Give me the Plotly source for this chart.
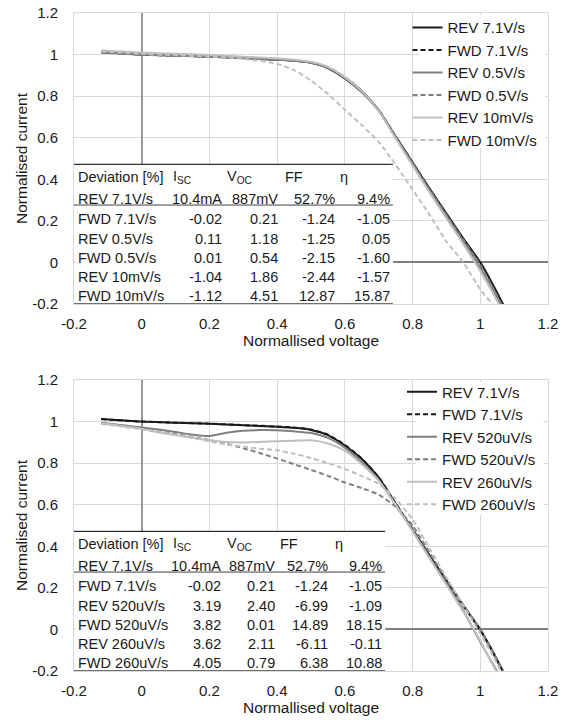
import plotly.graph_objects as go

FONT = "Liberation Sans, Arial, sans-serif"
TXT = "#1a1a1a"

# ---------------- axis ticks ----------------
TICK_VALS = [-0.2, 0, 0.2, 0.4, 0.6, 0.8, 1.0, 1.2]
TICK_TEXT = ["-0.2", "0", "0.2", "0.4", "0.6", "0.8", "1", "1.2"]

# ---------------- top chart data ----------------
V_TOP = [-0.12, 0, 0.1, 0.2, 0.3, 0.4, 0.45, 0.5, 0.55, 0.6, 0.65, 0.7, 0.75, 0.8, 0.85, 0.9, 0.95, 1.0, 1.035, 1.07]
TOP_REV_7_1 = [1.012, 1.0, 0.995, 0.99, 0.983, 0.975, 0.970, 0.960, 0.935, 0.885, 0.82, 0.73, 0.605, 0.48, 0.355, 0.235, 0.115, 0.0, -0.1, -0.21]
TOP_FWD_7_1 = [1.012, 1.0, 0.995, 0.99, 0.983, 0.976, 0.971, 0.962, 0.937, 0.888, 0.822, 0.732, 0.607, 0.481, 0.355, 0.233, 0.112, -0.004, -0.105, -0.215]
TOP_REV_0_5 = [1.01, 0.999, 0.994, 0.989, 0.982, 0.975, 0.97, 0.961, 0.937, 0.889, 0.825, 0.733, 0.603, 0.474, 0.347, 0.225, 0.102, -0.025, -0.125, -0.235]
TOP_FWD_0_5 = [1.01, 1.0, 0.995, 0.99, 0.983, 0.976, 0.971, 0.963, 0.94, 0.892, 0.826, 0.732, 0.604, 0.477, 0.351, 0.229, 0.108, -0.012, -0.115, -0.225]
TOP_REV_10m = [1.02, 1.01, 1.004, 0.998, 0.99, 0.981, 0.975, 0.965, 0.94, 0.89, 0.823, 0.728, 0.597, 0.466, 0.337, 0.212, 0.088, -0.042, -0.14, -0.25]
TOP_FWD_10m = [1.015, 1.003, 0.997, 0.99, 0.98, 0.955, 0.925, 0.875, 0.81, 0.735, 0.66, 0.58, 0.47, 0.35, 0.23, 0.10, 0.0, -0.13, -0.2, -0.28]

# ---------------- bottom chart data ----------------
V_BOT = [-0.12, 0, 0.05, 0.1, 0.15, 0.2, 0.25, 0.3, 0.35, 0.4, 0.45, 0.5, 0.55, 0.6, 0.65, 0.7, 0.75, 0.8, 0.85, 0.9, 0.95, 1.0, 1.035, 1.07]
BOT_REV_520u = [0.995, 0.972, 0.962, 0.95, 0.937, 0.931, 0.946, 0.956, 0.959, 0.958, 0.953, 0.945, 0.922, 0.875, 0.805, 0.72, 0.6, 0.475, 0.345, 0.22, 0.09, -0.06, -0.16, -0.26]
BOT_FWD_520u = [0.99, 0.965, 0.952, 0.94, 0.926, 0.911, 0.893, 0.872, 0.848, 0.822, 0.795, 0.768, 0.739, 0.707, 0.68, 0.648, 0.59, 0.5, 0.37, 0.24, 0.118, 0.0, -0.1, -0.21]
BOT_REV_260u = [0.992, 0.965, 0.948, 0.935, 0.922, 0.91, 0.902, 0.9, 0.902, 0.906, 0.908, 0.91, 0.895, 0.86, 0.795, 0.715, 0.6, 0.475, 0.345, 0.215, 0.085, -0.055, -0.165, -0.27]
BOT_FWD_260u = [0.99, 0.963, 0.95, 0.937, 0.922, 0.905, 0.89, 0.879, 0.87, 0.862, 0.845, 0.825, 0.8, 0.772, 0.738, 0.7, 0.628, 0.53, 0.39, 0.25, 0.115, -0.02, -0.12, -0.23]

# ---------------- table data ----------------
REF_ROW = ["REV 7.1V/s", "10.4mA", "887mV", "52.7%", "9.4%"]
TOP_ROWS = ["FWD 7.1V/s", "REV 0.5V/s", "FWD 0.5V/s", "REV 10mV/s", "FWD 10mV/s"]
TOP_ISC = [-0.02, 0.11, 0.01, -1.04, -1.12]
TOP_VOC = [0.21, 1.18, 0.54, 1.86, 4.51]
TOP_FF = [-1.24, -1.25, -2.15, -2.44, 12.87]
TOP_ETA = [-1.05, 0.05, -1.60, -1.57, 15.87]
BOT_ROWS = ["FWD 7.1V/s", "REV 520uV/s", "FWD 520uV/s", "REV 260uV/s", "FWD 260uV/s"]
BOT_ISC = [-0.02, 3.19, 3.82, 3.62, 4.05]
BOT_VOC = [0.21, 2.40, 0.01, 2.11, 0.79]
BOT_FF = [-1.24, -6.99, 14.89, -6.11, 6.38]
BOT_ETA = [-1.05, -1.09, 18.15, -0.11, 10.88]

BLACK = "#1a1a1a"
DARK = "#7f7f7f"
LIGHT = "#bfbfbf"
DASH = "5px,3px"

fig = go.Figure()


def add(x, y, name, color, dash, xa, ya, legend):
    fig.add_trace(go.Scatter(
        x=x, y=y, name=name, mode="lines",
        line=dict(color=color, width=2, dash=dash, shape="spline", smoothing=0.6),
        xaxis=xa, yaxis=ya, legend=legend, hoverinfo="skip"))


add(V_TOP, TOP_REV_7_1, "REV 7.1V/s", BLACK, "solid", "x", "y", "legend")
add(V_TOP, TOP_FWD_7_1, "FWD 7.1V/s", BLACK, DASH, "x", "y", "legend")
add(V_TOP, TOP_REV_0_5, "REV 0.5V/s", DARK, "solid", "x", "y", "legend")
add(V_TOP, TOP_FWD_0_5, "FWD 0.5V/s", DARK, DASH, "x", "y", "legend")
add(V_TOP, TOP_REV_10m, "REV 10mV/s", LIGHT, "solid", "x", "y", "legend")
add(V_TOP, TOP_FWD_10m, "FWD 10mV/s", LIGHT, DASH, "x", "y", "legend")

add(V_TOP, TOP_REV_7_1, "REV 7.1V/s", BLACK, "solid", "x2", "y2", "legend2")
add(V_TOP, TOP_FWD_7_1, "FWD 7.1V/s", BLACK, DASH, "x2", "y2", "legend2")
add(V_BOT, BOT_REV_520u, "REV 520uV/s", DARK, "solid", "x2", "y2", "legend2")
add(V_BOT, BOT_FWD_520u, "FWD 520uV/s", DARK, DASH, "x2", "y2", "legend2")
add(V_BOT, BOT_REV_260u, "REV 260uV/s", LIGHT, "solid", "x2", "y2", "legend2")
add(V_BOT, BOT_FWD_260u, "FWD 260uV/s", LIGHT, DASH, "x2", "y2", "legend2")

shapes = []
annotations = []


def table(xr, yr, right, cols_val, cols_head, rows, isc, voc, ff, eta):
    top_y, ul_y = 0.472, 0.276
    shapes.append(dict(type="rect", xref=xr, yref=yr, x0=-0.199, x1=right, y0=-0.199, y1=top_y,
                       fillcolor="white", line=dict(width=0), layer="above"))
    shapes.append(dict(type="line", xref=xr, yref=yr, x0=-0.2, x1=right, y0=top_y, y1=top_y,
                       line=dict(color="#000000", width=1), layer="above"))
    shapes.append(dict(type="line", xref=xr, yref=yr, x0=-0.2, x1=right, y0=ul_y, y1=ul_y,
                       line=dict(color="#404040", width=1), layer="above"))
    shapes.append(dict(type="line", xref=xr, yref=yr, x0=-0.2, x1=right, y0=-0.2, y1=-0.2,
                       line=dict(color="#404040", width=1.5), layer="above"))
    f = dict(family=FONT, size=14.5, color=TXT)

    def ann(x, y, t, anchor):
        annotations.append(dict(xref=xr, yref=yr, x=x, y=y, text=t, showarrow=False,
                                xanchor=anchor, yanchor="middle", font=f))
    lx = -0.194
    head_y = 0.412
    ann(lx, head_y, "Deviation [%]", "left")
    for hx, t in zip(cols_head, ["I<sub>SC</sub>", "V<sub>OC</sub>", "FF", "η"]):
        ann(hx, head_y, t, "left")
    ann(lx, 0.307, REF_ROW[0], "left")
    for cx, t in zip(cols_val, REF_ROW[1:]):
        ann(cx, 0.307, t, "right")
    row_y = [0.208, 0.114, 0.022, -0.069, -0.162]
    for i, name in enumerate(rows):
        ann(lx, row_y[i], name, "left")
        for cx, v in zip(cols_val, [isc[i], voc[i], ff[i], eta[i]]):
            ann(cx, row_y[i], f"{v:.2f}", "right")


table("x", "y", 0.742, [0.243, 0.409, 0.577, 0.739], [0.0865, 0.246, 0.417, 0.580],
      TOP_ROWS, TOP_ISC, TOP_VOC, TOP_FF, TOP_ETA)
table("x2", "y2", 0.719, [0.240, 0.399, 0.556, 0.717], [0.0865, 0.246, 0.403, 0.564],
      BOT_ROWS, BOT_ISC, BOT_VOC, BOT_FF, BOT_ETA)

# white boxes behind the legends
shapes.append(dict(type="rect", xref="x", yref="y", x0=0.82, x1=1.191, y0=0.55, y1=1.19,
                   fillcolor="white", line=dict(width=0), layer="above"))
shapes.append(dict(type="rect", xref="x2", yref="y2", x0=0.81, x1=1.186, y0=0.55, y1=1.19,
                   fillcolor="white", line=dict(width=0), layer="above"))

axis_font = dict(family=FONT, size=15, color=TXT)
title_font = dict(family=FONT, size=15.5, color=TXT)


def xaxis(anchor):
    return dict(range=[-0.2, 1.2], tickmode="array", tickvals=TICK_VALS, ticktext=TICK_TEXT,
                anchor=anchor, domain=[0, 1], automargin=False,
                showgrid=True, gridcolor="#d9d9d9", gridwidth=1,
                showline=True, mirror=True, linecolor="#d9d9d9", linewidth=1,
                zeroline=True, zerolinecolor="#999999", zerolinewidth=2,
                ticks="", tickfont=axis_font, ticklabelstandoff=6, ticklabeloverflow="allow",
                title=dict(text="Normallised voltage", font=title_font, standoff=2))


def yaxis(anchor, dom):
    return dict(range=[-0.2, 1.2], tickmode="array", tickvals=TICK_VALS, ticktext=TICK_TEXT,
                anchor=anchor, domain=dom, automargin=False,
                showgrid=True, gridcolor="#d9d9d9", gridwidth=1,
                showline=True, mirror=True, linecolor="#d9d9d9", linewidth=1,
                zeroline=True, zerolinecolor="#808080", zerolinewidth=1.5,
                ticks="", tickfont=axis_font, ticklabelstandoff=12, ticklabeloverflow="allow",
                title=dict(text="Normalised current", font=title_font, standoff=0))


leg_font = dict(family=FONT, size=15, color=TXT)
fig.update_layout(
    width=566, height=727,
    margin=dict(l=74, r=18, t=13, b=56, autoexpand=False),
    paper_bgcolor="white", plot_bgcolor="white",
    font=dict(family=FONT, color=TXT),
    xaxis=xaxis("y"), yaxis=yaxis("x", [0.5578, 1.0]),
    xaxis2=xaxis("y2"), yaxis2=yaxis("x2", [0.0, 0.4422]),
    legend=dict(x=0.7036, y=1.0026, xanchor="left", yanchor="top", bgcolor="rgba(0,0,0,0)",
                font=leg_font, borderwidth=0, traceorder="normal"),
    legend2=dict(x=0.692, y=0.449, xanchor="left", yanchor="top", bgcolor="rgba(0,0,0,0)",
                 font=leg_font, borderwidth=0, traceorder="normal"),
    shapes=shapes, annotations=annotations, showlegend=True,
)

fig.write_html("out.html", config={"displayModeBar": False},
               post_script="document.body.style.margin='0';document.body.style.overflow='hidden';")
